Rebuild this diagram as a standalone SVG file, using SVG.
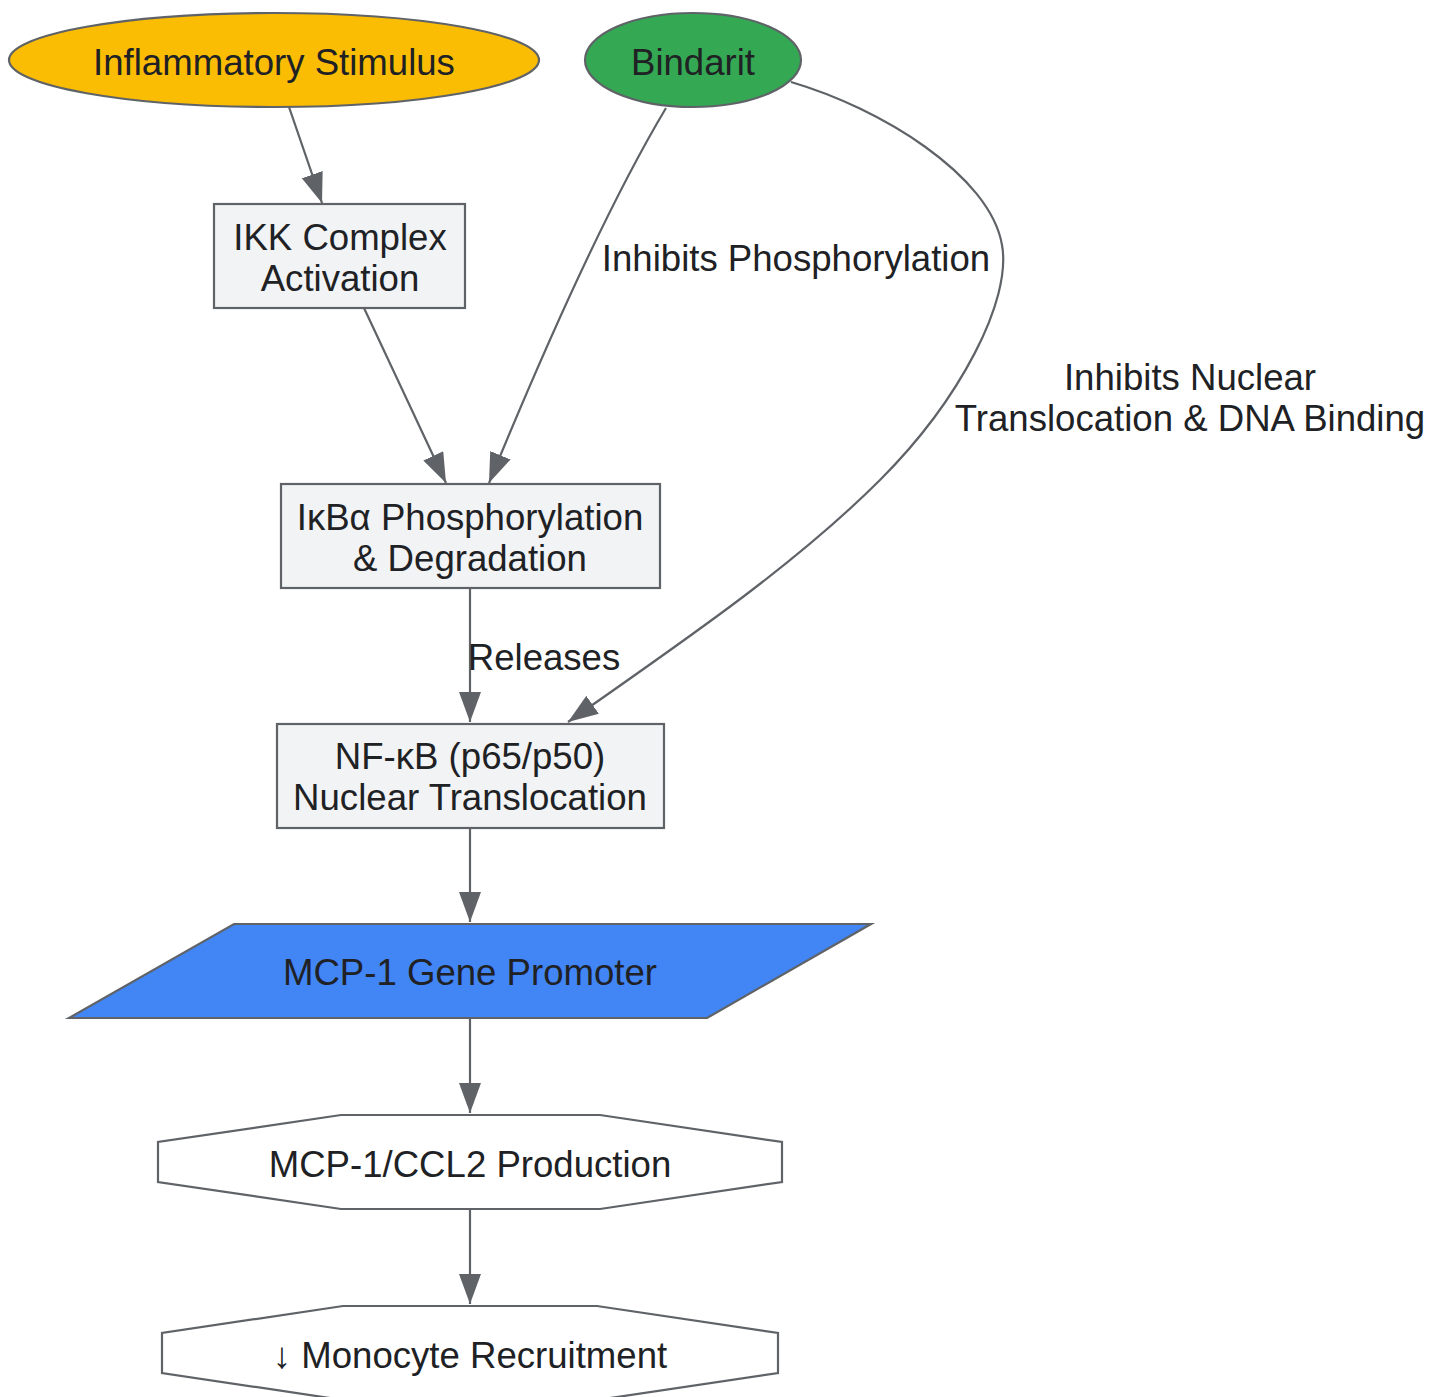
<svg xmlns="http://www.w3.org/2000/svg" width="1444" height="1397" viewBox="0 0 1444 1397">
<style>
  text { font-family: "Liberation Sans", Arial, sans-serif; font-size: 36.6px; fill: #202124; text-anchor: middle; }
  .node { stroke: #5F6368; stroke-width: 2.2; }
  .box { fill: #F1F3F4; }
  .oct { fill: #FFFFFF; }
  .edge { fill: none; stroke: #5F6368; stroke-width: 2.2; marker-end: url(#arrow); }
</style>
<defs>
  <marker id="arrow" viewBox="0 0 30 22" refX="30" refY="11" markerWidth="30" markerHeight="22" markerUnits="userSpaceOnUse" orient="auto">
    <path d="M0,0 L30,11 L0,22 Z" fill="#5F6368"/>
  </marker>
</defs>
<rect width="1444" height="1397" fill="#FFFFFF"/>
<g id="edges">
  <path class="edge" d="M289,107 L322,203"/>
  <path class="edge" d="M364,308 L446,483"/>
  <path class="edge" d="M666,108 C620,185 560,310 489,483"/>
  <path class="edge" d="M470,588 L470,722"/>
  <path class="edge" d="M791,82 C880,108 990,175 1002,245 C1012,300 960,400 880,480 C800,560 700,630 568,722"/>
  <path class="edge" d="M470,828 L470,922"/>
  <path class="edge" d="M470,1018 L470,1113"/>
  <path class="edge" d="M470,1209 L470,1304"/>
</g>
<g id="edge-labels">
  <text x="796" y="271">Inhibits Phosphorylation</text>
  <text x="544" y="670">Releases</text>
  <text x="1190" y="390">Inhibits Nuclear</text>
  <text x="1190" y="431">Translocation &amp; DNA Binding</text>
</g>
<g id="node-stimulus">
  <ellipse class="node" cx="274" cy="60" rx="265" ry="47" fill="#FBBC04"/>
  <text x="274" y="75">Inflammatory Stimulus</text>
</g>
<g id="node-bindarit">
  <ellipse class="node" cx="693" cy="60" rx="108" ry="47" fill="#34A853"/>
  <text x="693" y="75">Bindarit</text>
</g>
<g id="node-ikk">
  <rect class="node box" x="214" y="204" width="251" height="104"/>
  <text x="340" y="250">IKK Complex</text>
  <text x="340" y="291">Activation</text>
</g>
<g id="node-ikba">
  <rect class="node box" x="281" y="484" width="379" height="104"/>
  <text x="470" y="530">IκBα Phosphorylation</text>
  <text x="470" y="571">&amp; Degradation</text>
</g>
<g id="node-nfkb">
  <rect class="node box" x="277" y="724" width="387" height="104"/>
  <text x="470" y="769">NF-κB (p65/p50)</text>
  <text x="470" y="810">Nuclear Translocation</text>
</g>
<g id="node-promoter">
  <polygon class="node" points="234,924 871,924 707,1018 69,1018" fill="#4285F4"/>
  <text x="470" y="985">MCP-1 Gene Promoter</text>
</g>
<g id="node-mcp1">
  <polygon class="node oct" points="341,1115 600,1115 782,1142 782,1182 600,1209 341,1209 158,1182 158,1142"/>
  <text x="470" y="1177">MCP-1/CCL2 Production</text>
</g>
<g id="node-monocyte">
  <polygon class="node oct" points="343,1306 597,1306 778,1333 778,1373 597,1400 343,1400 162,1373 162,1333"/>
  <text x="470" y="1368">↓ Monocyte Recruitment</text>
</g>
</svg>
